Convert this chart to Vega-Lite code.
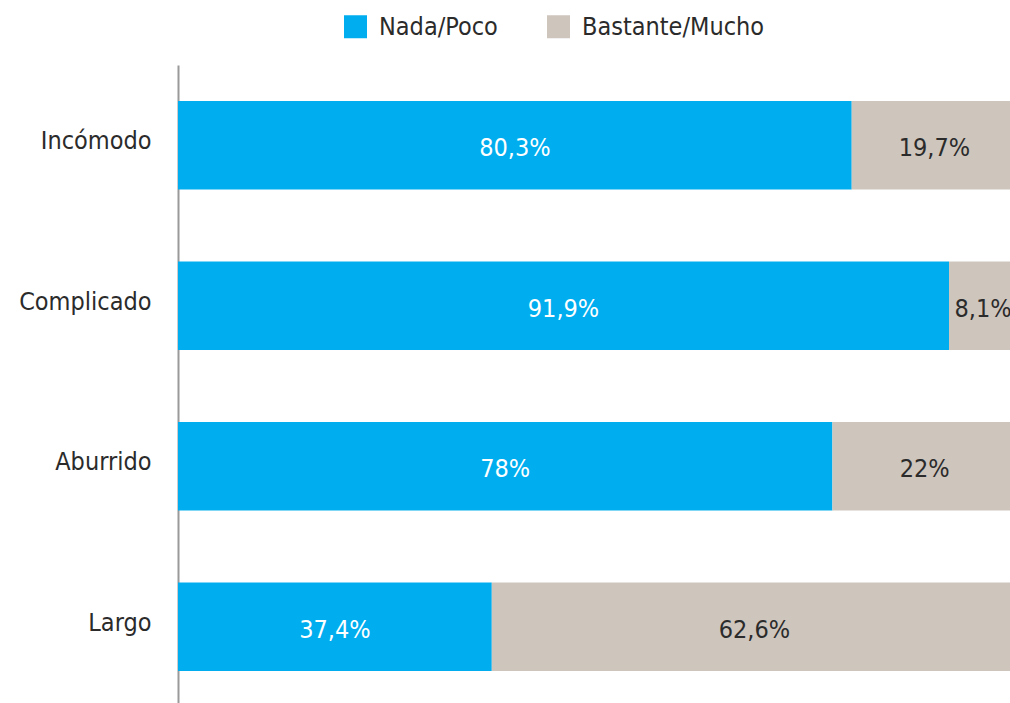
{
  "$schema": "https://vega.github.io/schema/vega-lite/v6.json",
  "width": 832,
  "height": 638,
  "autosize": {"type": "none"},
  "padding": {"left": 178, "top": 65, "right": 0, "bottom": 0},
  "background": "white",
  "config": {
    "view": {"stroke": null},
    "font": "DejaVu Sans Condensed, Roboto, sans-serif",
    "locale": {"number": {"decimal": ",", "thousands": ".", "grouping": [3], "currency": ["", " €"]}}
  },
  "data": {
    "values": [
      {"item": "Incómodo", "cat": "Nada/Poco", "ord": 1, "pct": 0.803},
      {"item": "Incómodo", "cat": "Bastante/Mucho", "ord": 2, "pct": 0.197},
      {"item": "Complicado", "cat": "Nada/Poco", "ord": 1, "pct": 0.919},
      {"item": "Complicado", "cat": "Bastante/Mucho", "ord": 2, "pct": 0.081},
      {"item": "Aburrido", "cat": "Nada/Poco", "ord": 1, "pct": 0.78},
      {"item": "Aburrido", "cat": "Bastante/Mucho", "ord": 2, "pct": 0.22},
      {"item": "Largo", "cat": "Nada/Poco", "ord": 1, "pct": 0.374},
      {"item": "Largo", "cat": "Bastante/Mucho", "ord": 2, "pct": 0.626}
    ]
  },
  "encoding": {
    "y": {
      "field": "item",
      "type": "nominal",
      "sort": ["Incómodo", "Complicado", "Aburrido", "Largo"],
      "scale": {"range": [0, 642], "paddingInner": 0.45, "paddingOuter": 0.225},
      "axis": {
        "title": null,
        "domain": true,
        "domainColor": "#9a9a9a",
        "domainWidth": 2,
        "ticks": false,
        "grid": false,
        "labelFontSize": 25,
        "labelColor": "#2b2b2b",
        "labelPadding": 27,
        "labelOffset": -4,
        "labelFont": "DejaVu Sans Condensed, Roboto, sans-serif"
      }
    }
  },
  "layer": [
    {
      "mark": {"type": "bar"},
      "encoding": {
        "x": {
          "field": "pct",
          "type": "quantitative",
          "stack": "zero",
          "scale": {"domain": [0, 1], "range": [0, 839]},
          "axis": null
        },
        "order": {"field": "ord"},
        "color": {
          "field": "cat",
          "type": "nominal",
          "scale": {"domain": ["Nada/Poco", "Bastante/Mucho"], "range": ["#00AEEF", "#CEC5BC"]},
          "legend": {
            "orient": "none",
            "legendX": 165,
            "legendY": -51,
            "direction": "horizontal",
            "title": null,
            "symbolType": "square",
            "symbolSize": 529,
            "symbolStrokeWidth": 0,
            "symbolOpacity": 1,
            "labelFontSize": 25,
            "labelColor": "#2b2b2b",
            "labelFont": "DejaVu Sans Condensed, Roboto, sans-serif",
            "labelLimit": 400,
            "labelOffset": 11,
            "columnPadding": 48,
            "padding": 0
          }
        }
      }
    },
    {
      "transform": [
        {"stack": "pct", "groupby": ["item"], "sort": [{"field": "ord"}], "as": ["s0", "s1"]},
        {"fold": ["s0", "s1"], "as": ["edge", "pos"]},
        {"aggregate": [{"op": "mean", "field": "pos", "as": "mid"}], "groupby": ["item", "cat", "pct"]}
      ],
      "mark": {"type": "text", "fontSize": 25, "baseline": "middle", "dy": 3, "font": "DejaVu Sans Condensed, Roboto, sans-serif"},
      "encoding": {
        "x": {"field": "mid", "type": "quantitative"},
        "text": {"field": "pct", "type": "quantitative", "format": ".1~%"},
        "color": {
          "condition": {"test": "datum.cat === 'Nada/Poco'", "value": "white"},
          "value": "#2b2b2b"
        }
      }
    }
  ]
}
